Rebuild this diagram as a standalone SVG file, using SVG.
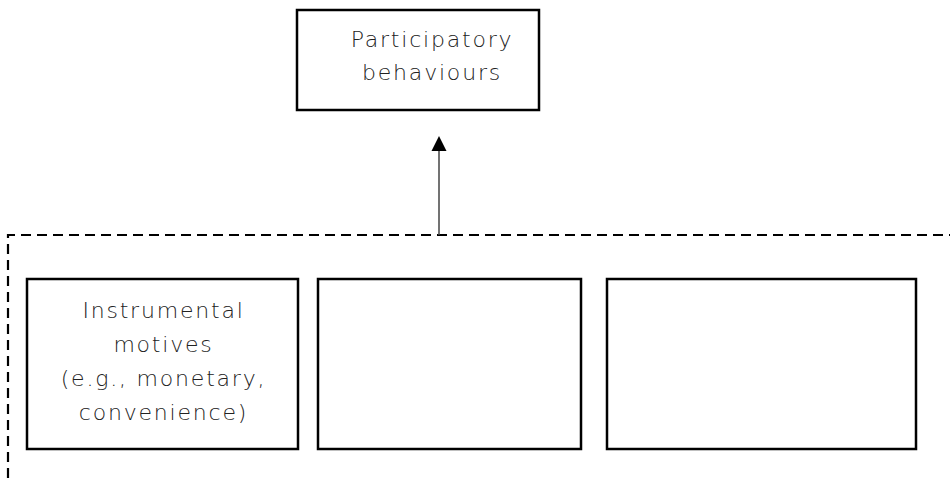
<svg xmlns="http://www.w3.org/2000/svg" width="950" height="478" viewBox="0 0 950 478">
<defs>
<style>
.box{fill:#fff;stroke:#000;stroke-width:2.5}
.lbl{font-family:"DejaVu Sans","Open Sans",sans-serif;font-weight:200;font-size:22px;letter-spacing:1.8px;fill:#222;text-anchor:middle}
.dash{fill:none;stroke:#000;stroke-width:2.2;stroke-dasharray:10,6}
.conn{stroke:#444;stroke-width:1.5;fill:none}
</style>
</defs>
<rect width="950" height="478" fill="#fff"/>
<path class="dash" d="M8,478 L8,235 L950,235"/>
<g id="connectors">
<line class="conn" x1="439" y1="235" x2="439" y2="150"/>
<path d="M439,136 L446.5,151 L431.5,151 z" fill="#000"/>
</g>
<g id="participatory">
<rect class="box" x="297" y="10" width="242" height="100"/>
<text class="lbl" x="432" y="47">Participatory</text>
<text class="lbl" x="432" y="80">behaviours</text>
</g>
<g id="instrumental">
<rect class="box" x="27" y="279" width="271" height="170"/>
<text class="lbl" x="163.5" y="318">Instrumental</text>
<text class="lbl" x="163.5" y="352">motives</text>
<text class="lbl" x="163.5" y="386">(e.g., monetary,</text>
<text class="lbl" x="163.5" y="420">convenience)</text>
</g>
<g id="box2">
<rect class="box" x="318" y="279" width="263" height="170"/>
</g>
<g id="box3">
<rect class="box" x="607" y="279" width="309" height="170"/>
</g>
</svg>
